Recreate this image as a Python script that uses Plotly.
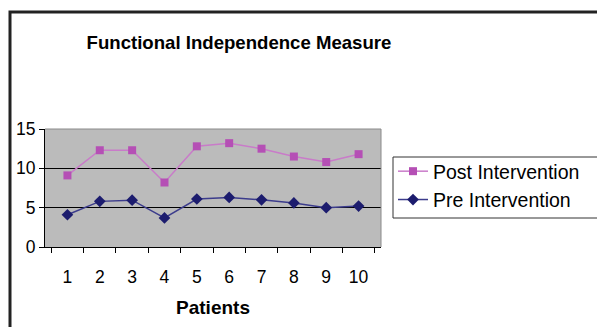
import plotly.graph_objects as go

patients = ["1", "2", "3", "4", "5", "6", "7", "8", "9", "10"]
post_intervention = [9.1, 12.3, 12.3, 8.2, 12.8, 13.2, 12.5, 11.5, 10.8, 11.8]
pre_intervention = [4.1, 5.8, 5.95, 3.7, 6.1, 6.3, 6.0, 5.6, 5.0, 5.2]
y_ticks = [0, 5, 10, 15]

# page body has an 8px margin; work in page coordinates and shift
OFF = 8
W, H = 605 - OFF, 327 - OFF
L, R, T, B = 45 - OFF, 381 - OFF, 129 - OFF, 247 - OFF
pw, ph = R - L, B - T

def px(x):
    return (x - OFF - L) / pw

def py(y):
    return (B - (y - OFF)) / ph

FONT = "Liberation Sans, Arial, sans-serif"

fig = go.Figure()
fig.add_trace(go.Scatter(
    x=patients, y=post_intervention, name="Post Intervention",
    mode="lines+markers",
    line=dict(color="#C97BC9", width=1.5),
    marker=dict(symbol="square", size=8, color="#B54FB5"),
))
fig.add_trace(go.Scatter(
    x=patients, y=pre_intervention, name="Pre Intervention",
    mode="lines+markers",
    line=dict(color="#3C3C8C", width=1.5),
    marker=dict(symbol="diamond", size=9, color="#1C1C6E"),
))

fig.update_layout(
    width=W, height=H,
    margin=dict(l=L, r=W - R, t=T, b=H - B, autoexpand=False),
    paper_bgcolor="white",
    plot_bgcolor="#BBBBBB",
    font=dict(family=FONT, color="black", size=17),
    title=dict(
        text="<b>Functional Independence Measure</b>",
        font=dict(family=FONT, size=18.6, color="black"),
        x=px(239), xref="paper", xanchor="center",
        y=1 - (42 - OFF) / H, yref="container", yanchor="middle",
    ),
    showlegend=True,
    legend=dict(
        x=px(393), y=py(152), xanchor="left", yanchor="top",
        borderwidth=0, bgcolor="rgba(0,0,0,0)",
        font=dict(family=FONT, size=19.5, color="black"),
        tracegroupgap=0,
    ),
    xaxis=dict(
        type="category", categoryorder="array", categoryarray=patients,
        tickson="boundaries", ticks="outside", ticklen=5, tickcolor="black",
        showline=True, linecolor="black", linewidth=1,
        showgrid=False, zeroline=False,
        ticklabelstandoff=14,
        tickfont=dict(family=FONT, size=17.5, color="black"),
        title=dict(text="<b>Patients</b>", standoff=14,
                   font=dict(family=FONT, size=19, color="black")),
        automargin=False,
    ),
    yaxis=dict(
        range=[0, 15], tickvals=y_ticks, ticktext=[str(v) for v in y_ticks],
        ticks="outside", ticklen=5, tickcolor="black",
        showline=True, linecolor="black", linewidth=1,
        showgrid=True, gridcolor="black", gridwidth=1,
        zeroline=False,
        tickfont=dict(family=FONT, size=17.5, color="black"),
        automargin=False,
    ),
    shapes=[
        dict(type="line", xref="paper", yref="paper", x0=0, x1=1, y0=1, y1=1,
             line=dict(color="#8A8A8A", width=1), layer="above"),
        dict(type="line", xref="paper", yref="paper", x0=1, x1=1, y0=0, y1=1,
             line=dict(color="#8A8A8A", width=1), layer="above"),
        dict(type="rect", xref="paper", yref="paper",
             x0=px(393), x1=px(603), y0=py(218), y1=py(157),
             line=dict(color="#333333", width=1), fillcolor="white", layer="above"),
        dict(type="path", xref="paper", yref="paper",
             path=f"M {px(10)},{py(340)} L {px(10)},{py(12)} L {px(620)},{py(12)}",
             line=dict(color="#222222", width=3)),
    ],
)

fig.write_html("out.html")
